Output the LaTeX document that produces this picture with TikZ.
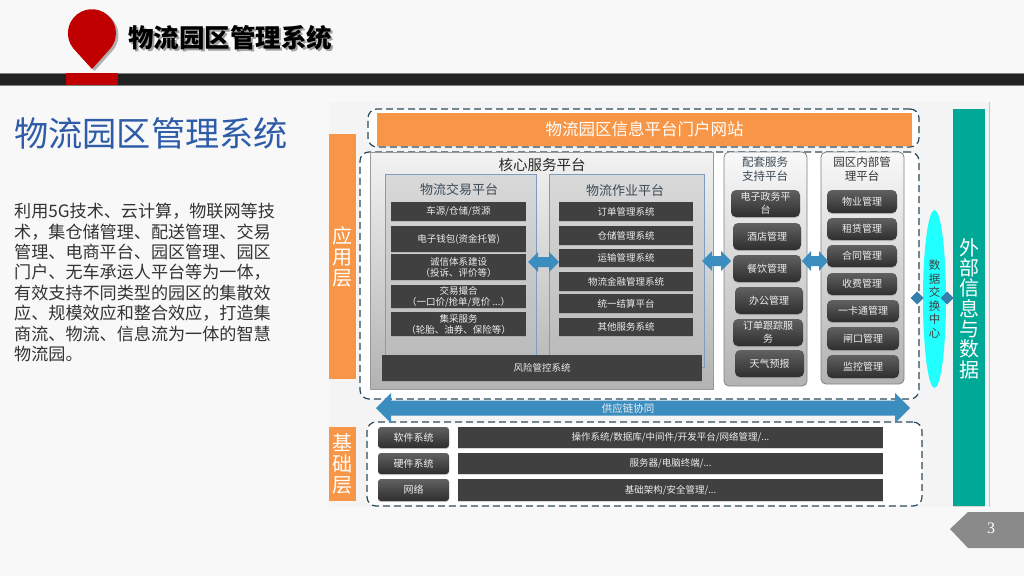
\documentclass[tikz,border=0pt]{standalone}
\usepackage{fontspec}
\setmainfont{Noto Sans CJK SC}
\newfontfamily\pagefont{Liberation Serif}
\usetikzlibrary{shadows,shapes.geometric}
\definecolor{pagebg}{HTML}{F8F8F8}
\definecolor{darkbar}{HTML}{222222}
\definecolor{pinred}{HTML}{C00000}
\definecolor{headblue}{HTML}{2E5CA8}
\definecolor{bodytext}{HTML}{333333}
\definecolor{orangeblk}{HTML}{F79646}
\definecolor{tealblk}{HTML}{00A896}
\definecolor{arrowblue}{HTML}{3C8DBF}
\definecolor{dashcol}{HTML}{2E4A5A}
\definecolor{itemdark}{HTML}{404040}
\definecolor{subline}{HTML}{7E9CC0}
\definecolor{subtitle}{HTML}{3C4A55}
\definecolor{pagegray}{HTML}{8A8A8A}
\definecolor{itemtext}{HTML}{EDEDED}
\definecolor{ovalcyan}{HTML}{22FFFF}
\newcommand{\bx}[7]{\node[#6,minimum width={(#4-#2)*1pt},minimum height={(#5-#3)*1pt}] (#1) at ({(#2+#4)/2},{(#3+#5)/2}) {#7};}
\newcommand{\dblarrow}[5]{% x0 x1 y headlen halfhead
  \fill[arrowblue] (#1,#3) -- (#1+#4,#3-#5) -- (#1+#4,#3-#5*0.5) -- (#2-#4,#3-#5*0.5) -- (#2-#4,#3-#5) -- (#2,#3) -- (#2-#4,#3+#5) -- (#2-#4,#3+#5*0.5) -- (#1+#4,#3+#5*0.5) -- (#1+#4,#3+#5) -- cycle;}
\tikzset{
  dashbox/.style={draw=dashcol,line width=1.2pt,dash pattern=on 7pt off 4pt,rounded corners=9pt,fill=white,inner sep=0pt},
  layerblock/.style={fill=orangeblk,text=white,inner sep=0pt,align=center,font=\fontsize{20}{21}\selectfont},
  corepanel/.style={draw=gray!80,line width=.6pt,top color=gray!10,bottom color=gray!60,inner sep=0pt},
  sidepanel/.style={draw=gray,line width=.8pt,rounded corners=5pt,top color=gray!5,bottom color=gray!60,inner sep=0pt},
  subpanel/.style={draw=subline,line width=.8pt,top color=gray!30,bottom color=gray!55,inner sep=0pt},
  flatitem/.style={fill=itemdark,text=itemtext,inner sep=0pt,align=center,font=\fontsize{9.5}{11}\selectfont,drop shadow={shadow xshift=0pt,shadow yshift=-1pt,opacity=.3}},
  rounditem/.style={rounded corners=5pt,top color=black!62,bottom color=black!82,text=itemtext,inner sep=0pt,align=center,font=\fontsize{10}{13}\selectfont,drop shadow={shadow xshift=0pt,shadow yshift=-1.2pt,opacity=.35}},
  plainlabel/.style={inner sep=0pt,align=center},
}
\begin{document}
\begin{tikzpicture}[x=1pt,y=-1pt]
\useasboundingbox (0,0) rectangle (1024,576);
\fill[pagebg] (0,0) rectangle (1024,576);
% header
\fill[gray!70!black,opacity=.45] (94.5,71) -- (75.5,50) arc[start angle=218,end angle=-38,radius=24pt] -- cycle;
\fill[pinred] (92,69) -- (73,48) arc[start angle=218,end angle=-38,radius=24pt] -- cycle;
\draw[gray,line width=.8pt,fill=darkbar] (-2,73) rectangle (1026,85);
\bx{redtab}{66}{73}{118}{85}{fill=pinred,inner sep=0pt}{}
\node[plainlabel,text=gray!75,font=\fontsize{25.5}{28}\bfseries\selectfont,anchor=west] (titleshadow) at (130,40) {物流园区管理系统};
\node[plainlabel,text=black,font=\fontsize{25.5}{28}\bfseries\selectfont,anchor=west] (title) at (128,38) {物流园区管理系统};
% left column
\node[plainlabel,text=headblue,font=\fontsize{34.2}{38}\selectfont,anchor=west] (heading) at (14,133) {物流园区管理系统};
\node[plainlabel,text=bodytext,font=\fontsize{17.1}{20.4}\selectfont,anchor=north west,align=left] (body) at (14,203) {利用5G技术、云计算，物联网等技\\术，集仓储管理、配送管理、交易\\管理、电商平台、园区管理、园区\\门户、无车承运人平台等为一体，\\有效支持不同类型的园区的集散效\\应、规模效应和整合效应，打造集\\商流、物流、信息流为一体的智慧\\物流园。};
% diagram background
\fill[gray!9] (329,102) rectangle (989,507);
\draw[gray!45,line width=1pt] (989,102) -- (989,507);
% layer blocks
\bx{appl}{329}{134}{356}{379}{layerblock}{应\\用\\层}
\bx{basel}{329}{427}{356}{501}{layerblock}{基\\础\\层}
% dashed groups
\bx{topdash}{368}{109}{919}{147}{dashbox}{}
\bx{middash}{360}{152}{919}{399}{dashbox}{}
\bx{botdash}{367}{422}{922}{506}{dashbox}{}
\bx{portal}{377}{113}{912}{146}{fill=orangeblk,text=white,inner sep=0pt,font=\fontsize{16.5}{18}\selectfont,drop shadow={shadow xshift=0pt,shadow yshift=-1pt,opacity=.3}}{物流园区信息平台门户网站}
% core platform
\bx{core}{370}{152}{713}{389}{corepanel}{}
\node[plainlabel,text=black!85,font=\fontsize{14.5}{16}\selectfont] (coretitle) at (542,165) {核心服务平台};
\bx{trade}{385}{174}{536}{367}{subpanel}{}
\bx{oper}{549}{174}{704}{367}{subpanel}{}
\node[plainlabel,text=subtitle,font=\fontsize{13}{15}\selectfont] (tradetitle) at (459,190) {物流交易平台};
\node[plainlabel,text=subtitle,font=\fontsize{13}{15}\selectfont] (opertitle) at (625,191) {物流作业平台};
\bx{t1}{391}{202}{526}{221}{flatitem}{车源/仓储/货源}
\bx{t2}{391}{226}{526}{252}{flatitem}{电子钱包(资金托管)}
\bx{t3}{391}{254}{526}{280}{flatitem}{诚信体系建设\\（投诉、评价等）}
\bx{t4}{391}{285}{526}{308}{flatitem}{交易撮合\\（一口价/抢单/竞价 ...）}
\bx{t5}{391}{312}{526}{336}{flatitem}{集采服务\\（轮胎、油券、保险等）}
\bx{o1}{559}{202}{693}{221}{flatitem}{订单管理系统}
\bx{o2}{559}{226}{693}{245}{flatitem}{仓储管理系统}
\bx{o3}{559}{249}{693}{267}{flatitem}{运输管理系统}
\bx{o4}{559}{272}{693}{291}{flatitem}{物流金融管理系统}
\bx{o5}{559}{294}{693}{313}{flatitem}{统一结算平台}
\bx{o6}{559}{318}{693}{336}{flatitem}{其他服务系统}
\bx{risk}{382}{355}{702}{381}{flatitem}{风险管控系统}
% support platform
\bx{supp}{724}{152}{807}{386}{sidepanel}{}
\node[plainlabel,text=subtitle,font=\fontsize{11.5}{14}\selectfont] (supptitle) at (765,169) {配套服务\\支持平台};
\bx{s1}{731}{190}{800}{217}{rounditem}{电子政务平\\台}
\bx{s2}{733}{223}{801}{250}{rounditem}{酒店管理}
\bx{s3}{733}{255}{801}{282}{rounditem}{餐饮管理}
\bx{s4}{735}{287}{803}{314}{rounditem}{办公管理}
\bx{s5}{733}{319}{803}{346}{rounditem}{订单跟踪服\\务}
\bx{s6}{735}{350}{804}{377}{rounditem}{天气预报}
% park platform
\bx{park}{821}{152}{904}{384}{sidepanel}{}
\node[plainlabel,text=black!80,font=\fontsize{11.5}{14}\selectfont] (parktitle) at (862,169) {园区内部管\\理平台};
\bx{p1}{827}{190}{897}{213}{rounditem}{物业管理}
\bx{p2}{827}{218}{897}{240}{rounditem}{租赁管理}
\bx{p3}{827}{245}{897}{267}{rounditem}{合同管理}
\bx{p4}{827}{273}{897}{295}{rounditem}{收费管理}
\bx{p5}{827}{300}{899}{322}{rounditem}{一卡通管理}
\bx{p6}{827}{327}{899}{350}{rounditem}{闸口管理}
\bx{p7}{827}{355}{899}{378}{rounditem}{监控管理}
% block arrows
\dblarrow{528}{559}{262}{10}{10}
\dblarrow{702}{731}{261}{10}{10}
\dblarrow{802}{828}{261}{9}{10}
\dblarrow{376}{910}{408}{15}{15}
\node[plainlabel,text=itemtext,font=\fontsize{10.5}{12}\selectfont] (supply) at (628,408) {供应链协同};
% base rows
\bx{b1}{378}{427}{449}{448}{rounditem,rounded corners=3pt}{软件系统}
\bx{b2}{378}{453}{449}{474}{rounditem,rounded corners=3pt}{硬件系统}
\bx{b3}{378}{479}{449}{501}{rounditem,rounded corners=3pt}{网络}
\bx{r1}{458}{427}{883}{448}{flatitem}{操作系统/数据库/中间件/开发平台/网络管理/...}
\bx{r2}{458}{453}{883}{474}{flatitem}{服务器/电脑终端/...}
\bx{r3}{458}{479}{883}{501}{flatitem}{基础架构/安全管理/...}
% data exchange
\node[ellipse,fill=ovalcyan,inner sep=0pt,minimum width=23pt,minimum height=178pt,text=black!75,align=center,font=\fontsize{11.5}{13.6}\selectfont] (exch) at (934.5,299) {数\\据\\交\\换\\中\\心};
\fill[arrowblue!90!black] (917,291.5) -- (923.5,298) -- (917,304.5) -- (910.5,298) -- cycle;
\fill[arrowblue!90!black] (947,291.5) -- (953.5,298) -- (947,304.5) -- (940.5,298) -- cycle;
% external block
\bx{extern}{953}{109}{985}{506}{fill=tealblk,text=white,inner sep=0pt,align=center,font=\fontsize{20}{20.3}\selectfont,drop shadow={shadow xshift=0pt,shadow yshift=-1pt,opacity=.25}}{}
\node[plainlabel,text=white,font=\fontsize{20}{20.3}\selectfont] (externtext) at (969,308.5) {外\\部\\信\\息\\与\\数\\据};
% page tag
\fill[pagegray] (950,529) -- (968,512) -- (1024,512) -- (1024,548) -- (968,548) -- cycle;
\node[plainlabel,text=white,font=\fontsize{16}{18}\pagefont] (pagenum) at (991,528) {3};
\end{tikzpicture}
\end{document}
